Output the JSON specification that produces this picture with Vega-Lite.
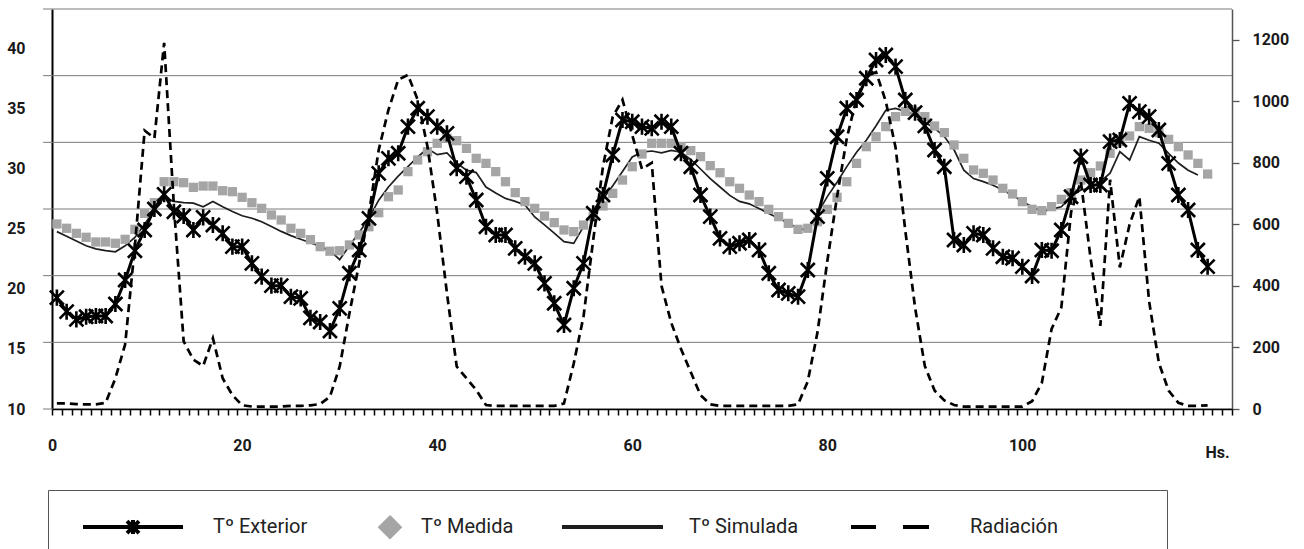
{
  "$schema": "https://vega.github.io/schema/vega-lite/v6.json",
  "width": 1180,
  "height": 400,
  "autosize": {"type": "none"},
  "padding": {"left": 52, "top": 9, "right": 72, "bottom": 140},
  "datasets": {
    "ticks": [{"t":-0.5},{"t":0.5},{"t":1.5},{"t":2.5},{"t":3.5},{"t":4.5},{"t":5.5},{"t":6.5},{"t":7.5},{"t":8.5},{"t":9.5},{"t":10.5},{"t":11.5},{"t":12.5},{"t":13.5},{"t":14.5},{"t":15.5},{"t":16.5},{"t":17.5},{"t":18.5},{"t":19.5},{"t":20.5},{"t":21.5},{"t":22.5},{"t":23.5},{"t":24.5},{"t":25.5},{"t":26.5},{"t":27.5},{"t":28.5},{"t":29.5},{"t":30.5},{"t":31.5},{"t":32.5},{"t":33.5},{"t":34.5},{"t":35.5},{"t":36.5},{"t":37.5},{"t":38.5},{"t":39.5},{"t":40.5},{"t":41.5},{"t":42.5},{"t":43.5},{"t":44.5},{"t":45.5},{"t":46.5},{"t":47.5},{"t":48.5},{"t":49.5},{"t":50.5},{"t":51.5},{"t":52.5},{"t":53.5},{"t":54.5},{"t":55.5},{"t":56.5},{"t":57.5},{"t":58.5},{"t":59.5},{"t":60.5},{"t":61.5},{"t":62.5},{"t":63.5},{"t":64.5},{"t":65.5},{"t":66.5},{"t":67.5},{"t":68.5},{"t":69.5},{"t":70.5},{"t":71.5},{"t":72.5},{"t":73.5},{"t":74.5},{"t":75.5},{"t":76.5},{"t":77.5},{"t":78.5},{"t":79.5},{"t":80.5},{"t":81.5},{"t":82.5},{"t":83.5},{"t":84.5},{"t":85.5},{"t":86.5},{"t":87.5},{"t":88.5},{"t":89.5},{"t":90.5},{"t":91.5},{"t":92.5},{"t":93.5},{"t":94.5},{"t":95.5},{"t":96.5},{"t":97.5},{"t":98.5},{"t":99.5},{"t":100.5},{"t":101.5},{"t":102.5},{"t":103.5},{"t":104.5},{"t":105.5},{"t":106.5},{"t":107.5},{"t":108.5},{"t":109.5},{"t":110.5},{"t":111.5},{"t":112.5},{"t":113.5},{"t":114.5},{"t":115.5},{"t":116.5},{"t":117.5},{"t":118.5},{"t":119.5},{"t":120.5}],
    "grid": [{"g":0},{"g":1},{"g":2},{"g":3},{"g":4},{"g":5},{"g":6}]
  },
  "data": {"values": [
    {"h":0,"ext":19.28,"med":25.42,"sim":24.78,"rad":18},
    {"h":1,"ext":18.11,"med":25.06,"sim":24.4,"rad":18},
    {"h":2,"ext":17.47,"med":24.64,"sim":24.0,"rad":16},
    {"h":3,"ext":17.69,"med":24.31,"sim":23.6,"rad":15},
    {"h":4,"ext":17.75,"med":23.92,"sim":23.35,"rad":15},
    {"h":5,"ext":17.75,"med":23.92,"sim":23.2,"rad":20},
    {"h":6,"ext":18.75,"med":23.81,"sim":23.1,"rad":100},
    {"h":7,"ext":20.75,"med":24.14,"sim":23.6,"rad":210},
    {"h":8,"ext":23.19,"med":24.97,"sim":24.3,"rad":530},
    {"h":9,"ext":24.92,"med":26.31,"sim":25.4,"rad":905},
    {"h":10,"ext":26.67,"med":27.19,"sim":26.6,"rad":880},
    {"h":11,"ext":27.89,"med":28.94,"sim":27.6,"rad":1190},
    {"h":12,"ext":26.44,"med":28.94,"sim":27.3,"rad":660},
    {"h":13,"ext":26.08,"med":28.86,"sim":27.2,"rad":220},
    {"h":14,"ext":24.92,"med":28.47,"sim":27.15,"rad":160},
    {"h":15,"ext":25.97,"med":28.58,"sim":26.85,"rad":140},
    {"h":16,"ext":25.33,"med":28.58,"sim":27.3,"rad":230},
    {"h":17,"ext":24.64,"med":28.19,"sim":26.85,"rad":100},
    {"h":18,"ext":23.53,"med":28.11,"sim":26.45,"rad":45},
    {"h":19,"ext":23.53,"med":27.64,"sim":26.1,"rad":12},
    {"h":20,"ext":22.14,"med":27.19,"sim":25.9,"rad":8},
    {"h":21,"ext":21.03,"med":26.72,"sim":25.6,"rad":8},
    {"h":22,"ext":20.28,"med":26.17,"sim":25.2,"rad":8},
    {"h":23,"ext":20.28,"med":25.75,"sim":24.8,"rad":8},
    {"h":24,"ext":19.36,"med":25.06,"sim":24.45,"rad":10},
    {"h":25,"ext":19.22,"med":24.64,"sim":24.15,"rad":10},
    {"h":26,"ext":17.6,"med":24.11,"sim":23.85,"rad":12},
    {"h":27,"ext":17.25,"med":23.53,"sim":23.55,"rad":16},
    {"h":28,"ext":16.5,"med":23.15,"sim":23.2,"rad":40},
    {"h":29,"ext":18.39,"med":23.19,"sim":22.45,"rad":138},
    {"h":30,"ext":21.31,"med":23.67,"sim":23.6,"rad":311},
    {"h":31,"ext":23.25,"med":24.5,"sim":24.7,"rad":474},
    {"h":32,"ext":25.89,"med":25.19,"sim":25.9,"rad":636},
    {"h":33,"ext":29.64,"med":26.36,"sim":27.4,"rad":842},
    {"h":34,"ext":30.89,"med":27.69,"sim":28.5,"rad":972},
    {"h":35,"ext":31.31,"med":28.25,"sim":29.4,"rad":1070},
    {"h":36,"ext":33.53,"med":29.78,"sim":30.2,"rad":1086},
    {"h":37,"ext":35.06,"med":30.75,"sim":31.0,"rad":1005},
    {"h":38,"ext":34.36,"med":31.44,"sim":31.7,"rad":853},
    {"h":39,"ext":33.53,"med":32.14,"sim":31.2,"rad":636},
    {"h":40,"ext":32.97,"med":32.56,"sim":31.35,"rad":376},
    {"h":41,"ext":30.06,"med":32.36,"sim":30.5,"rad":138},
    {"h":42,"ext":29.36,"med":31.72,"sim":29.9,"rad":100},
    {"h":43,"ext":27.42,"med":30.89,"sim":29.7,"rad":62},
    {"h":44,"ext":25.19,"med":30.47,"sim":28.5,"rad":13},
    {"h":45,"ext":24.5,"med":29.78,"sim":28.0,"rad":10},
    {"h":46,"ext":24.5,"med":28.94,"sim":27.55,"rad":10},
    {"h":47,"ext":23.39,"med":28.03,"sim":27.3,"rad":10},
    {"h":48,"ext":22.69,"med":27.28,"sim":27.0,"rad":10},
    {"h":49,"ext":22.14,"med":26.72,"sim":26.0,"rad":10},
    {"h":50,"ext":20.47,"med":26.08,"sim":25.35,"rad":10},
    {"h":51,"ext":18.81,"med":25.53,"sim":24.65,"rad":10},
    {"h":52,"ext":17.0,"med":24.92,"sim":23.95,"rad":18},
    {"h":53,"ext":20.06,"med":24.78,"sim":23.8,"rad":148},
    {"h":54,"ext":22.14,"med":25.33,"sim":25.2,"rad":300},
    {"h":55,"ext":26.31,"med":26.03,"sim":26.5,"rad":550},
    {"h":56,"ext":27.83,"med":26.92,"sim":27.5,"rad":788},
    {"h":57,"ext":31.17,"med":27.97,"sim":28.6,"rad":950},
    {"h":58,"ext":34.08,"med":29.08,"sim":29.8,"rad":1005},
    {"h":59,"ext":33.94,"med":30.19,"sim":31.0,"rad":890},
    {"h":60,"ext":33.53,"med":31.25,"sim":31.4,"rad":780},
    {"h":61,"ext":33.39,"med":32.14,"sim":31.5,"rad":800},
    {"h":62,"ext":33.94,"med":32.14,"sim":31.35,"rad":400},
    {"h":63,"ext":33.53,"med":32.14,"sim":31.55,"rad":280},
    {"h":64,"ext":31.31,"med":31.86,"sim":31.4,"rad":195},
    {"h":65,"ext":30.19,"med":31.53,"sim":30.8,"rad":120},
    {"h":66,"ext":27.83,"med":31.03,"sim":30.0,"rad":45},
    {"h":67,"ext":26.03,"med":30.28,"sim":29.2,"rad":15},
    {"h":68,"ext":24.22,"med":29.69,"sim":28.5,"rad":10},
    {"h":69,"ext":23.53,"med":28.94,"sim":27.8,"rad":10},
    {"h":70,"ext":23.81,"med":28.39,"sim":27.3,"rad":10},
    {"h":71,"ext":24.08,"med":27.83,"sim":27.1,"rad":10},
    {"h":72,"ext":23.25,"med":27.28,"sim":26.7,"rad":10},
    {"h":73,"ext":21.31,"med":26.64,"sim":26.3,"rad":10},
    {"h":74,"ext":19.92,"med":26.03,"sim":25.9,"rad":10},
    {"h":75,"ext":19.64,"med":25.47,"sim":25.5,"rad":10},
    {"h":76,"ext":19.36,"med":24.97,"sim":25.05,"rad":15},
    {"h":77,"ext":21.58,"med":25.06,"sim":24.9,"rad":90},
    {"h":78,"ext":26.03,"med":25.61,"sim":26.3,"rad":250},
    {"h":79,"ext":29.22,"med":26.64,"sim":27.7,"rad":480},
    {"h":80,"ext":32.69,"med":27.64,"sim":28.9,"rad":690},
    {"h":81,"ext":35.06,"med":28.94,"sim":30.2,"rad":880},
    {"h":82,"ext":35.75,"med":30.47,"sim":31.4,"rad":1010},
    {"h":83,"ext":37.56,"med":31.86,"sim":32.4,"rad":1080},
    {"h":84,"ext":39.08,"med":32.69,"sim":33.6,"rad":1095},
    {"h":85,"ext":39.5,"med":33.53,"sim":34.9,"rad":1000},
    {"h":86,"ext":38.53,"med":34.36,"sim":35.05,"rad":850},
    {"h":87,"ext":35.75,"med":34.8,"sim":34.8,"rad":580},
    {"h":88,"ext":34.7,"med":34.8,"sim":34.5,"rad":330},
    {"h":89,"ext":33.6,"med":34.36,"sim":33.9,"rad":140},
    {"h":90,"ext":31.58,"med":33.58,"sim":33.4,"rad":60},
    {"h":91,"ext":30.19,"med":33.03,"sim":32.7,"rad":28},
    {"h":92,"ext":24.08,"med":32.0,"sim":31.6,"rad":13},
    {"h":93,"ext":23.67,"med":30.89,"sim":29.9,"rad":8},
    {"h":94,"ext":24.64,"med":29.92,"sim":29.2,"rad":8},
    {"h":95,"ext":24.5,"med":29.64,"sim":28.95,"rad":8},
    {"h":96,"ext":23.39,"med":29.08,"sim":28.65,"rad":8},
    {"h":97,"ext":22.69,"med":28.39,"sim":28.25,"rad":8},
    {"h":98,"ext":22.56,"med":27.92,"sim":27.8,"rad":8},
    {"h":99,"ext":21.86,"med":27.28,"sim":27.3,"rad":8},
    {"h":100,"ext":21.08,"med":26.64,"sim":26.85,"rad":25},
    {"h":101,"ext":23.25,"med":26.53,"sim":26.45,"rad":85},
    {"h":102,"ext":23.19,"med":26.86,"sim":26.65,"rad":260},
    {"h":103,"ext":24.92,"med":27.47,"sim":26.85,"rad":330},
    {"h":104,"ext":27.69,"med":28.03,"sim":27.7,"rad":640},
    {"h":105,"ext":31.03,"med":29.08,"sim":28.25,"rad":740},
    {"h":106,"ext":28.67,"med":29.69,"sim":28.4,"rad":490},
    {"h":107,"ext":28.67,"med":30.25,"sim":28.95,"rad":270},
    {"h":108,"ext":32.28,"med":31.31,"sim":29.65,"rad":745},
    {"h":109,"ext":32.42,"med":32.28,"sim":31.45,"rad":460},
    {"h":110,"ext":35.47,"med":32.75,"sim":30.75,"rad":600},
    {"h":111,"ext":34.78,"med":33.53,"sim":32.7,"rad":690},
    {"h":112,"ext":34.36,"med":33.39,"sim":32.4,"rad":350},
    {"h":113,"ext":33.25,"med":33.03,"sim":32.15,"rad":150},
    {"h":114,"ext":30.47,"med":32.47,"sim":31.3,"rad":60},
    {"h":115,"ext":27.83,"med":31.86,"sim":30.5,"rad":20},
    {"h":116,"ext":26.58,"med":31.17,"sim":29.9,"rad":10},
    {"h":117,"ext":23.25,"med":30.47,"sim":29.5,"rad":10},
    {"h":118,"ext":21.86,"med":29.58,"sim":null,"rad":12}
  ]},
  "layer": [
    {
      "data": {"name": "grid"},
      "mark": {"type": "rule", "color": "#7a7a7a", "strokeWidth": 1},
      "encoding": {
        "x": {"datum": -1.42, "type": "quantitative", "scale": {"domain": [-0.5, 120.5], "nice": false, "zero": false},
          "axis": {
            "orient": "bottom",
            "values": [-0.5,0.5,1.5,2.5,3.5,4.5,5.5,6.5,7.5,8.5,9.5,10.5,11.5,12.5,13.5,14.5,15.5,16.5,17.5,18.5,19.5,20.5,21.5,22.5,23.5,24.5,25.5,26.5,27.5,28.5,29.5,30.5,31.5,32.5,33.5,34.5,35.5,36.5,37.5,38.5,39.5,40.5,41.5,42.5,43.5,44.5,45.5,46.5,47.5,48.5,49.5,50.5,51.5,52.5,53.5,54.5,55.5,56.5,57.5,58.5,59.5,60.5,61.5,62.5,63.5,64.5,65.5,66.5,67.5,68.5,69.5,70.5,71.5,72.5,73.5,74.5,75.5,76.5,77.5,78.5,79.5,80.5,81.5,82.5,83.5,84.5,85.5,86.5,87.5,88.5,89.5,90.5,91.5,92.5,93.5,94.5,95.5,96.5,97.5,98.5,99.5,100.5,101.5,102.5,103.5,104.5,105.5,106.5,107.5,108.5,109.5,110.5,111.5,112.5,113.5,114.5,115.5,116.5,117.5,118.5,119.5,120.5],
            "labelExpr": "datum.value < 110 && (datum.value + 0.5) % 20 == 0 ? format(datum.value + 0.5, 'd') : ''",
            "labelOverlap": false, "labelFlush": false, "labelBound": false,
            "labelOffset": {"condition": {"test": "datum.value < 0", "value": 0}, "value": -5},
            "ticks": true, "tickSize": 6, "tickColor": "#000000", "tickWidth": 1.5, "tickOpacity": 1,
            "domainColor": "#000", "domainWidth": 1.5, "grid": false,
            "labelPadding": 22, "zindex": 1,
            "title": "Hs.", "titleX": 1165, "titleY": 43, "titleAlign": "center", "titleBaseline": "middle",
            "titleFont": "Roboto", "titleFontSize": 16, "titleFontWeight": "bold", "titleColor": "#1a1a1a"
          }},
        "x2": {"datum": 120.5},
        "y": {"field": "g", "type": "quantitative",
          "scale": {"domain": [0, 6], "nice": false, "zero": false},
          "axis": null}
      }
    },
    {
      "encoding": {
        "x": {"field": "h", "type": "quantitative",
          "scale": {"domain": [-0.5, 120.5], "nice": false, "zero": false},
          "axis": {
            "orient": "bottom",
            "values": [-0.5,0.5,1.5,2.5,3.5,4.5,5.5,6.5,7.5,8.5,9.5,10.5,11.5,12.5,13.5,14.5,15.5,16.5,17.5,18.5,19.5,20.5,21.5,22.5,23.5,24.5,25.5,26.5,27.5,28.5,29.5,30.5,31.5,32.5,33.5,34.5,35.5,36.5,37.5,38.5,39.5,40.5,41.5,42.5,43.5,44.5,45.5,46.5,47.5,48.5,49.5,50.5,51.5,52.5,53.5,54.5,55.5,56.5,57.5,58.5,59.5,60.5,61.5,62.5,63.5,64.5,65.5,66.5,67.5,68.5,69.5,70.5,71.5,72.5,73.5,74.5,75.5,76.5,77.5,78.5,79.5,80.5,81.5,82.5,83.5,84.5,85.5,86.5,87.5,88.5,89.5,90.5,91.5,92.5,93.5,94.5,95.5,96.5,97.5,98.5,99.5,100.5,101.5,102.5,103.5,104.5,105.5,106.5,107.5,108.5,109.5,110.5,111.5,112.5,113.5,114.5,115.5,116.5,117.5,118.5,119.5,120.5],
            "labelExpr": "datum.value < 110 && (datum.value + 0.5) % 20 == 0 ? format(datum.value + 0.5, 'd') : ''",
            "labelOverlap": false, "labelFlush": false, "labelBound": false,
            "labelOffset": {"condition": {"test": "datum.value < 0", "value": 0}, "value": -5},
            "ticks": true, "tickSize": 6, "tickColor": "#000000", "tickWidth": 1.5, "tickOpacity": 1,
            "domainColor": "#000", "domainWidth": 1.5, "grid": false,
            "labelPadding": 22, "zindex": 1,
            "title": "Hs.", "titleX": 1165, "titleY": 43, "titleAlign": "center", "titleBaseline": "middle",
            "titleFont": "Roboto", "titleFontSize": 16, "titleFontWeight": "bold", "titleColor": "#1a1a1a"
          }},
        "y": {"type": "quantitative",
          "scale": {"domain": [10, 43.3333], "nice": false, "zero": false},
          "axis": {"orient": "left", "values": [10,15,20,25,30,35,40], "ticks": false, "tickSize": 0, "grid": false, "domainColor": "#000", "domainWidth": 2, "labelPadding": 27, "title": null}}
      },
      "layer": [
        {
          "mark": {"type": "line", "strokeWidth": 1.7},
          "encoding": {
            "y": {"field": "sim"},
            "color": {"datum": "Tº Simulada", "type": "nominal",
              "scale": {"domain": ["Tº Exterior", "Tº Medida", "Tº Simulada", "Radiación"], "range": ["#000000", "#a5a5a5", "#1e1e1e", "#000000"]},
              "legend": {
                "orient": "none", "legendX": -4, "legendY": 481,
                "direction": "horizontal", "columns": 4,
                "title": "x", "titleOrient": "left", "titleColor": "transparent", "titleFont": "Roboto", "titleFontSize": 20, "titlePadding": 98,
                "symbolSize": 484,
                "labelOffset": 6, "columnPadding": 0,
                "padding": 24, "strokeColor": "#555555",
                "labelFont": "Roboto", "labelFontSize": 20, "labelColor": "#222222", "labelLimit": 600,
                "labelExpr": "datum.label == 'Tº Exterior' ? datum.label + '\u00a0\u00a0\u00a0\u00a0\u00a0\u00a0\u00a0\u00a0\u00a0\u00a0\u2800' : datum.label == 'Tº Medida' ? datum.label + '\u00a0\u00a0\u00a0\u00a0\u00a0\u2800' : datum.label == 'Tº Simulada' ? datum.label + '\u00a0\u00a0\u00a0\u00a0\u00a0\u00a0\u2800' : datum.label + '\u00a0\u00a0\u00a0\u00a0\u00a0\u00a0\u00a0\u00a0\u00a0\u00a0\u00a0\u00a0\u00a0\u00a0\u2800'",
                "encode": {"symbols": {"update": {
                  "shape": {"signal": "datum.value === 'Tº Exterior' ? 'M-10.09,0H-1M-6.09,-0.545L-5,0.545M-6.09,0.545L-5,-0.545M-5.545,-0.636V0.636M-5.545,-0.9M-5.545,0.9' : datum.value === 'Tº Medida' ? 'M-1.09,-0.864L-0.226,0L-1.09,0.864L-1.954,0Z' : datum.value === 'Tº Simulada' ? 'M-9.818,0H-0.636M-5,-0.9M-5,0.9' : 'M-9.09,0H-6.818M-4.364,0H-2M-5,-0.9M-5,0.9'"},
                  "fill": {"signal": "datum.value === 'Tº Medida' ? '#a5a5a5' : 'transparent'"},
                  "stroke": {"signal": "datum.value === 'Tº Medida' ? 'transparent' : '#000000'"},
                  "strokeWidth": {"value": 4},
                  "strokeDash": {"value": []},
                  "opacity": {"value": 1},
                  "size": {"value": 484}
                }}}
              }}
          }
        },
        {
          "mark": {"type": "point", "shape": "square", "filled": true, "size": 86, "opacity": 1, "strokeWidth": 0},
          "encoding": {
            "y": {"field": "med"},
            "color": {"datum": "Tº Medida", "type": "nominal"}
          }
        }
      ]
    },
    {
      "mark": {"type": "line", "strokeWidth": 2.7, "strokeDash": [8, 5]},
      "encoding": {
        "x": {"field": "h", "type": "quantitative", "scale": {"domain": [-0.5, 120.5], "nice": false, "zero": false},
          "axis": {
            "orient": "bottom",
            "values": [-0.5,0.5,1.5,2.5,3.5,4.5,5.5,6.5,7.5,8.5,9.5,10.5,11.5,12.5,13.5,14.5,15.5,16.5,17.5,18.5,19.5,20.5,21.5,22.5,23.5,24.5,25.5,26.5,27.5,28.5,29.5,30.5,31.5,32.5,33.5,34.5,35.5,36.5,37.5,38.5,39.5,40.5,41.5,42.5,43.5,44.5,45.5,46.5,47.5,48.5,49.5,50.5,51.5,52.5,53.5,54.5,55.5,56.5,57.5,58.5,59.5,60.5,61.5,62.5,63.5,64.5,65.5,66.5,67.5,68.5,69.5,70.5,71.5,72.5,73.5,74.5,75.5,76.5,77.5,78.5,79.5,80.5,81.5,82.5,83.5,84.5,85.5,86.5,87.5,88.5,89.5,90.5,91.5,92.5,93.5,94.5,95.5,96.5,97.5,98.5,99.5,100.5,101.5,102.5,103.5,104.5,105.5,106.5,107.5,108.5,109.5,110.5,111.5,112.5,113.5,114.5,115.5,116.5,117.5,118.5,119.5,120.5],
            "labelExpr": "datum.value < 110 && (datum.value + 0.5) % 20 == 0 ? format(datum.value + 0.5, 'd') : ''",
            "labelOverlap": false, "labelFlush": false, "labelBound": false,
            "labelOffset": {"condition": {"test": "datum.value < 0", "value": 0}, "value": -5},
            "ticks": true, "tickSize": 6, "tickColor": "#000000", "tickWidth": 1.5, "tickOpacity": 1,
            "domainColor": "#000", "domainWidth": 1.5, "grid": false,
            "labelPadding": 22, "zindex": 1,
            "title": "Hs.", "titleX": 1165, "titleY": 43, "titleAlign": "center", "titleBaseline": "middle",
            "titleFont": "Roboto", "titleFontSize": 16, "titleFontWeight": "bold", "titleColor": "#1a1a1a"
          }},
        "y": {"field": "rad", "type": "quantitative",
          "scale": {"domain": [0, 1300], "nice": false, "zero": true},
          "axis": {"orient": "right", "values": [0,200,400,600,800,1000,1200], "format": "d", "ticks": true, "tickSize": 7, "tickColor": "#555555", "tickWidth": 1.3, "tickOpacity": 1, "domainColor": "#555555", "domainWidth": 1.5, "grid": false, "labelPadding": 13, "title": null}},
        "color": {"datum": "Radiación", "type": "nominal"}
      }
    },
    {
      "encoding": {
        "x": {"field": "h", "type": "quantitative", "scale": {"domain": [-0.5, 120.5], "nice": false, "zero": false},
          "axis": {
            "orient": "bottom",
            "values": [-0.5,0.5,1.5,2.5,3.5,4.5,5.5,6.5,7.5,8.5,9.5,10.5,11.5,12.5,13.5,14.5,15.5,16.5,17.5,18.5,19.5,20.5,21.5,22.5,23.5,24.5,25.5,26.5,27.5,28.5,29.5,30.5,31.5,32.5,33.5,34.5,35.5,36.5,37.5,38.5,39.5,40.5,41.5,42.5,43.5,44.5,45.5,46.5,47.5,48.5,49.5,50.5,51.5,52.5,53.5,54.5,55.5,56.5,57.5,58.5,59.5,60.5,61.5,62.5,63.5,64.5,65.5,66.5,67.5,68.5,69.5,70.5,71.5,72.5,73.5,74.5,75.5,76.5,77.5,78.5,79.5,80.5,81.5,82.5,83.5,84.5,85.5,86.5,87.5,88.5,89.5,90.5,91.5,92.5,93.5,94.5,95.5,96.5,97.5,98.5,99.5,100.5,101.5,102.5,103.5,104.5,105.5,106.5,107.5,108.5,109.5,110.5,111.5,112.5,113.5,114.5,115.5,116.5,117.5,118.5,119.5,120.5],
            "labelExpr": "datum.value < 110 && (datum.value + 0.5) % 20 == 0 ? format(datum.value + 0.5, 'd') : ''",
            "labelOverlap": false, "labelFlush": false, "labelBound": false,
            "labelOffset": {"condition": {"test": "datum.value < 0", "value": 0}, "value": -5},
            "ticks": true, "tickSize": 6, "tickColor": "#000000", "tickWidth": 1.5, "tickOpacity": 1,
            "domainColor": "#000", "domainWidth": 1.5, "grid": false,
            "labelPadding": 22, "zindex": 1,
            "title": "Hs.", "titleX": 1165, "titleY": 43, "titleAlign": "center", "titleBaseline": "middle",
            "titleFont": "Roboto", "titleFontSize": 16, "titleFontWeight": "bold", "titleColor": "#1a1a1a"
          }},
        "y": {"field": "ext", "type": "quantitative", "scale": {"domain": [10, 43.3333], "nice": false, "zero": false}, "axis": null},
        "color": {"datum": "Tº Exterior", "type": "nominal"}
      },
      "layer": [
        {
          "data": {"name": "ticks"},
          "mark": {"type": "rule", "strokeWidth": 1.2},
          "encoding": {
            "x": {"field": "t", "type": "quantitative", "scale": {"domain": [-0.5, 120.5], "nice": false, "zero": false},
              "axis": {
                "orient": "bottom",
                "values": [-0.5,0.5,1.5,2.5,3.5,4.5,5.5,6.5,7.5,8.5,9.5,10.5,11.5,12.5,13.5,14.5,15.5,16.5,17.5,18.5,19.5,20.5,21.5,22.5,23.5,24.5,25.5,26.5,27.5,28.5,29.5,30.5,31.5,32.5,33.5,34.5,35.5,36.5,37.5,38.5,39.5,40.5,41.5,42.5,43.5,44.5,45.5,46.5,47.5,48.5,49.5,50.5,51.5,52.5,53.5,54.5,55.5,56.5,57.5,58.5,59.5,60.5,61.5,62.5,63.5,64.5,65.5,66.5,67.5,68.5,69.5,70.5,71.5,72.5,73.5,74.5,75.5,76.5,77.5,78.5,79.5,80.5,81.5,82.5,83.5,84.5,85.5,86.5,87.5,88.5,89.5,90.5,91.5,92.5,93.5,94.5,95.5,96.5,97.5,98.5,99.5,100.5,101.5,102.5,103.5,104.5,105.5,106.5,107.5,108.5,109.5,110.5,111.5,112.5,113.5,114.5,115.5,116.5,117.5,118.5,119.5,120.5],
                "labelExpr": "datum.value < 110 && (datum.value + 0.5) % 20 == 0 ? format(datum.value + 0.5, 'd') : ''",
                "labelOverlap": false, "labelFlush": false, "labelBound": false,
                "labelOffset": {"condition": {"test": "datum.value < 0", "value": 0}, "value": -5},
                "ticks": true, "tickSize": 6, "tickColor": "#000000", "tickWidth": 1.5, "tickOpacity": 1,
                "domainColor": "#000", "domainWidth": 1.5, "grid": false,
                "labelPadding": 22, "zindex": 1,
                "title": "Hs.", "titleX": 1165, "titleY": 43, "titleAlign": "center", "titleBaseline": "middle",
                "titleFont": "Roboto", "titleFontSize": 16, "titleFontWeight": "bold", "titleColor": "#1a1a1a"
              }},
            "y": {"datum": 10, "type": "quantitative", "scale": {"domain": [10, 43.3333], "nice": false, "zero": false}, "axis": null},
            "y2": {"datum": 9.5}
          }
        },
        {"mark": {"type": "line", "strokeWidth": 3}},
        {"mark": {"type": "point", "shape": "M-1,-1L1,1M-1,1L1,-1M0,-1.15V1.15", "filled": false, "size": 196, "strokeWidth": 2.6, "opacity": 1}}
      ]
    }
  ],
  "resolve": {"scale": {"y": "independent"}, "axis": {"y": "independent"}},
  "config": {
    "view": {"stroke": null},
    "font": "Roboto",
    "axis": {"ticks": true, "labelFont": "Roboto", "labelFontSize": 16, "labelFontWeight": "bold", "labelColor": "#1a1a1a"}
  }
}
